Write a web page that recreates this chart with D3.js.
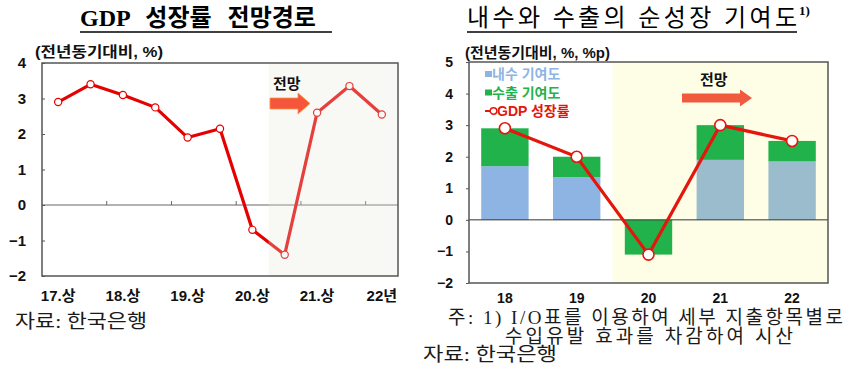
<!DOCTYPE html>
<html>
<head>
  <meta charset="utf-8">
  <script src="https://cdn.jsdelivr.net/npm/d3@7"></script>
  <style>
    body { margin: 0; background: #fff; }
    svg { display: block; }
    .tick text { font-family: "Liberation Sans", Arial, "Noto Sans CJK KR", sans-serif; font-weight: bold; fill: #111; }
    .note { font-family: "Liberation Serif", "Noto Sans CJK KR", serif; fill: #1a1a1a; }
  </style>
</head>
<body>
  <div id="chart"></div>
  <script>
    // left chart: half-year GDP growth path
    var halfLabels = ['17.상', '17.하', '18.상', '18.하', '19.상', '19.하', '20.상', '20.하', '21.상', '21.하', '22'];
    var gdpPath = [2.9, 3.4, 3.1, 2.75, 1.9, 2.15, -0.7, -1.4, 2.6, 3.35, 2.55];
    var leftTickLabels = ['17.상', '18.상', '19.상', '20.상', '21.상', '22년'];
    var leftYTicks = [-2, -1, 0, 1, 2, 3, 4];

    // right chart: contributions by year
    var years = ['18', '19', '20', '21', '22'];
    var domestic = [1.7, 1.35, 0, 1.9, 1.85];
    var exports = [1.2, 0.65, -1.1, 1.1, 0.65];
    var gdpYear = [2.9, 2.0, -1.1, 3.0, 2.5];
    var rightYTicks = [-2, -1, 0, 1, 2, 3, 4, 5];

    var svg = d3.select('#chart').append('svg')
      .attr('width', 852).attr('height', 383);

    var sans = '"Liberation Sans", Arial, "Noto Sans CJK KR", sans-serif';

    /* ---------- left chart ---------- */
    var L = { left: 42, right: 398, top: 63, bottom: 276 };
    var xL = d3.scaleBand().domain(halfLabels).range([L.left, L.right]);
    var yL = d3.scaleLinear().domain([-2, 4]).range([L.bottom, L.top]);
    var cxL = function (d) { return xL(d) + xL.bandwidth() / 2; };
    var shadeL = xL('20.하');

    var gL = svg.append('g');
    gL.append('rect').attr('x', L.left).attr('y', L.top)
      .attr('width', L.right - L.left).attr('height', L.bottom - L.top).attr('fill', '#fff');

    gL.append('line').attr('x1', L.left).attr('x2', L.right)
      .attr('y1', yL(0)).attr('y2', yL(0)).attr('stroke', '#666').attr('stroke-width', 1.2);

    // small year boundary ticks on the zero line
    gL.selectAll('.yrtick').data(halfLabels.filter(function (d, i) { return i > 0 && i % 2 === 0; }))
      .enter().append('line')
      .attr('x1', function (d) { return xL(d); }).attr('x2', function (d) { return xL(d); })
      .attr('y1', yL(0)).attr('y2', yL(0) - 4).attr('stroke', '#666');

    var lineL = d3.line()
      .x(function (d, i) { return cxL(halfLabels[i]); })
      .y(function (d) { return yL(d); });

    gL.append('path').datum(gdpPath).attr('d', lineL)
      .attr('fill', 'none').attr('stroke', '#e60000').attr('stroke-width', 3.2)
      .attr('stroke-linejoin', 'round');

    gL.selectAll('.dot').data(gdpPath).enter().append('circle')
      .attr('cx', function (d, i) { return cxL(halfLabels[i]); })
      .attr('cy', function (d) { return yL(d); })
      .attr('r', 3.6).attr('fill', '#fff').attr('stroke', '#e60000').attr('stroke-width', 1.2);

    // forecast shading (lightens line in the projection period)
    gL.append('rect').attr('x', shadeL).attr('y', L.top)
      .attr('width', L.right - shadeL).attr('height', L.bottom - L.top)
      .attr('fill', '#e6e6d6').attr('opacity', 0.28);

    gL.append('rect').attr('x', L.left).attr('y', L.top)
      .attr('width', L.right - L.left).attr('height', L.bottom - L.top)
      .attr('fill', 'none').attr('stroke', '#555').attr('stroke-width', 1.5);

    var axL = gL.append('g').attr('transform', 'translate(' + L.left + ',0)')
      .call(d3.axisLeft(yL).tickValues(leftYTicks).tickSizeInner(-3).tickSizeOuter(0)
        .tickPadding(16).tickFormat(d3.format('d')));
    axL.select('.domain').remove();
    axL.selectAll('.tick line').attr('stroke', '#555');
    axL.selectAll('.tick text').attr('font-size', 15);

    gL.selectAll('.xlab').data(leftTickLabels).enter().append('text')
      .attr('x', function (d, i) { return cxL(halfLabels[i * 2]); })
      .attr('y', 301).attr('text-anchor', 'middle')
      .attr('font-family', sans).attr('font-weight', 'bold').attr('font-size', 15).attr('fill', '#111')
      .text(function (d) { return d; });

    gL.append('text').attr('x', 35).attr('y', 57)
      .attr('font-family', sans).attr('font-weight', 'bold').attr('font-size', 15).attr('fill', '#111')
      .attr('textLength', 128).attr('lengthAdjust', 'spacingAndGlyphs')
      .text('(전년동기대비, %)');

    gL.append('text').attr('x', 273).attr('y', 89)
      .attr('font-family', sans).attr('font-weight', 'bold').attr('font-size', 15).attr('fill', '#111')
      .text('전망');
    gL.append('path')
      .attr('d', 'M270,98 L298,98 L298,93 L310,103.5 L298,114 L298,109 L270,109 Z')
      .attr('fill', '#f4553b').attr('stroke', '#f7953f').attr('stroke-width', 0.8);

    // title
    svg.append('text').attr('x', 80).attr('y', 26)
      .attr('font-family', '"Liberation Serif", "Noto Sans CJK KR", serif')
      .attr('font-weight', 'bold').attr('font-size', 24).attr('fill', '#000')
      .attr('word-spacing', 10)
      .text('GDP 성장률 전망경로');
    svg.append('line').attr('x1', 80).attr('x2', 332).attr('y1', 32).attr('y2', 32)
      .attr('stroke', '#000').attr('stroke-width', 1.5);

    svg.append('text').attr('class', 'note').attr('x', 15).attr('y', 328)
      .attr('font-size', 19).attr('textLength', 132).attr('lengthAdjust', 'spacingAndGlyphs')
      .text('자료: 한국은행');

    /* ---------- right chart ---------- */
    var R = { left: 469, right: 828, top: 62, bottom: 283 };
    var xR = d3.scaleBand().domain(years).range([R.left, R.right])
      .paddingInner(0.34).paddingOuter(0.17);
    var yR = d3.scaleLinear().domain([-2, 5]).range([R.bottom, R.top]);
    var cxR = function (d) { return xR(d) + xR.bandwidth() / 2; };
    var shadeR = xR('20') - xR.step() * xR.paddingInner() / 2;

    var gR = svg.append('g');
    gR.append('rect').attr('x', R.left).attr('y', R.top)
      .attr('width', R.right - R.left).attr('height', R.bottom - R.top).attr('fill', '#fff');
    gR.append('rect').attr('x', shadeR).attr('y', R.top)
      .attr('width', R.right - shadeR).attr('height', R.bottom - R.top).attr('fill', '#fefee6');

    // domestic bars
    gR.selectAll('.dom').data(domestic).enter().append('rect')
      .attr('x', function (d, i) { return xR(years[i]); })
      .attr('width', xR.bandwidth())
      .attr('y', function (d) { return yR(Math.max(d, 0)); })
      .attr('height', function (d) { return Math.abs(yR(0) - yR(d)); })
      .attr('fill', function (d, i) { return xR(years[i]) > shadeR ? '#9bbccc' : '#8eb4e3'; });

    // export bars stacked on domestic
    gR.selectAll('.exp').data(exports).enter().append('rect')
      .attr('x', function (d, i) { return xR(years[i]); })
      .attr('width', xR.bandwidth())
      .attr('y', function (d, i) {
        var base = d >= 0 ? Math.max(domestic[i], 0) : Math.min(domestic[i], 0);
        return yR(Math.max(base, base + d));
      })
      .attr('height', function (d) { return Math.abs(yR(0) - yR(d)); })
      .attr('fill', '#21b24b');

    gR.append('line').attr('x1', R.left).attr('x2', R.right)
      .attr('y1', yR(0)).attr('y2', yR(0)).attr('stroke', '#333').attr('stroke-width', 1);

    var lineR = d3.line()
      .x(function (d, i) { return cxR(years[i]); })
      .y(function (d) { return yR(d); });
    gR.append('path').datum(gdpYear).attr('d', lineR)
      .attr('fill', 'none').attr('stroke', '#e3170d').attr('stroke-width', 3.2);
    gR.selectAll('.pt').data(gdpYear).enter().append('circle')
      .attr('cx', function (d, i) { return cxR(years[i]); })
      .attr('cy', function (d) { return yR(d); })
      .attr('r', 5.5).attr('fill', '#fff').attr('stroke', '#e3170d').attr('stroke-width', 1.6);

    gR.append('rect').attr('x', R.left).attr('y', R.top)
      .attr('width', R.right - R.left).attr('height', R.bottom - R.top)
      .attr('fill', 'none').attr('stroke', '#555').attr('stroke-width', 1.5);

    var axR = gR.append('g').attr('transform', 'translate(' + R.left + ',0)')
      .call(d3.axisLeft(yR).tickValues(rightYTicks).tickSizeInner(3).tickSizeOuter(0)
        .tickPadding(13).tickFormat(d3.format('d')));
    axR.select('.domain').remove();
    axR.selectAll('.tick line').attr('stroke', '#555');
    axR.selectAll('.tick text').attr('font-size', 14);

    gR.selectAll('.xlab').data(years).enter().append('text')
      .attr('x', function (d) { return cxR(d); })
      .attr('y', 303).attr('text-anchor', 'middle')
      .attr('font-family', sans).attr('font-weight', 'bold').attr('font-size', 14).attr('fill', '#111')
      .text(function (d) { return d; });

    gR.append('text').attr('x', 465).attr('y', 58)
      .attr('font-family', sans).attr('font-weight', 'bold').attr('font-size', 15).attr('fill', '#111')
      .attr('textLength', 145).attr('lengthAdjust', 'spacingAndGlyphs')
      .text('(전년동기대비, %, %p)');

    // legend
    var legend = [
      { label: '내수 기여도', color: '#8eb4e3', kind: 'box' },
      { label: '수출 기여도', color: '#21b24b', kind: 'box' },
      { label: 'GDP 성장률', color: '#e3170d', kind: 'line' }
    ];
    var lg = gR.selectAll('.lg').data(legend).enter().append('g')
      .attr('transform', function (d, i) { return 'translate(485,' + [74, 92.5, 111][i] + ')'; });
    lg.filter(function (d) { return d.kind === 'box'; }).append('rect')
      .attr('x', 0).attr('y', -3).attr('width', 7).attr('height', 6).attr('fill', function (d) { return d.color; });
    lg.filter(function (d) { return d.kind === 'line'; }).append('line')
      .attr('x1', 0).attr('x2', 9).attr('y1', 0).attr('y2', 0).attr('stroke', function (d) { return d.color; }).attr('stroke-width', 2);
    lg.filter(function (d) { return d.kind === 'line'; }).append('circle')
      .attr('cx', 8.5).attr('cy', 0).attr('r', 3.3).attr('fill', '#fff')
      .attr('stroke', function (d) { return d.color; }).attr('stroke-width', 1.4);
    lg.append('text').attr('x', function (d) { return d.kind === 'box' ? 7 : 12; }).attr('y', 5)
      .attr('font-family', sans).attr('font-weight', 'bold').attr('font-size', 14)
      .attr('fill', function (d) { return d.color; })
      .text(function (d) { return d.label; });

    gR.append('text').attr('x', 700).attr('y', 85)
      .attr('font-family', sans).attr('font-weight', 'bold').attr('font-size', 15).attr('fill', '#111')
      .text('전망');
    gR.append('path')
      .attr('d', 'M682,93.5 L740,93.5 L740,89.5 L752,98 L740,106.5 L740,102.5 L682,102.5 Z')
      .attr('fill', '#f25a40');

    // title
    svg.append('text').attr('x', 467).attr('y', 26)
      .attr('font-family', '"Liberation Serif", "Noto Sans CJK KR", serif')
      .attr('font-size', 24).attr('fill', '#000')
      .attr('textLength', 330).attr('lengthAdjust', 'spacing')
      .text('내수와 수출의 순성장 기여도');
    svg.append('text').attr('x', 799).attr('y', 15)
      .attr('font-family', '"Liberation Serif", serif').attr('font-weight', 'bold')
      .attr('font-size', 13).attr('fill', '#000').text('1)');
    svg.append('line').attr('x1', 467).attr('x2', 797).attr('y1', 32).attr('y2', 32)
      .attr('stroke', '#000').attr('stroke-width', 1.5);

    svg.append('text').attr('class', 'note').attr('x', 448).attr('y', 324)
      .attr('font-size', 19).attr('textLength', 395).attr('lengthAdjust', 'spacing')
      .text('주: 1) I/O표를 이용하여 세부 지출항목별로');
    svg.append('text').attr('class', 'note').attr('x', 505).attr('y', 343)
      .attr('font-size', 19).attr('textLength', 288).attr('lengthAdjust', 'spacing')
      .text('수입유발 효과를 차감하여 시산');
    svg.append('text').attr('class', 'note').attr('x', 423).attr('y', 361)
      .attr('font-size', 19).attr('textLength', 134).attr('lengthAdjust', 'spacingAndGlyphs')
      .text('자료: 한국은행');
  </script>
</body>
</html>
